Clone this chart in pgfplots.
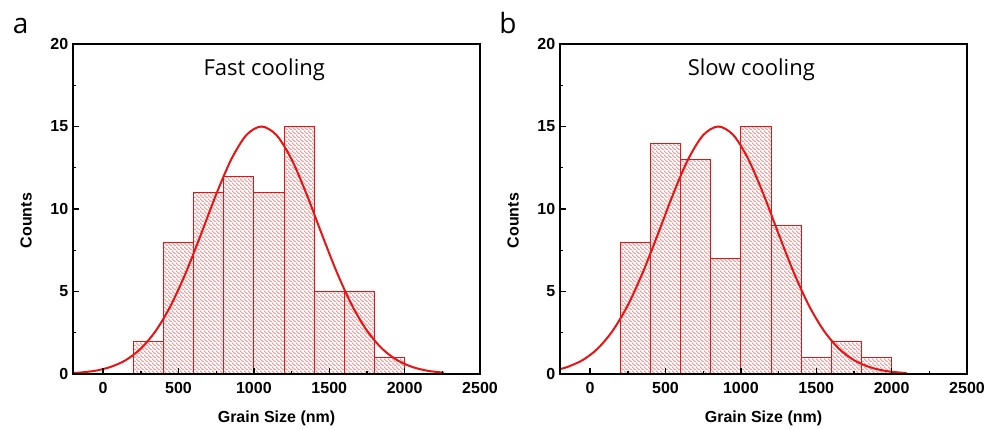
\documentclass[border=0pt]{standalone}
\usepackage{pgfplots}
\pgfplotsset{compat=1.18}
\usetikzlibrary{patterns}
\usepackage{fontspec}
\setmainfont{Liberation Sans}
\newfontfamily\titlefont{Open Sans}
\definecolor{myred}{RGB}{232,20,20}
\definecolor{hatch}{RGB}{242,150,150}
\pgfdeclarepatterninherentlycolored{redhatch}{\pgfpointorigin}{\pgfqpoint{3pt}{3pt}}{\pgfqpoint{3pt}{3pt}}{%
  \pgfsetcolor{hatch}\pgfsetlinewidth{0.8pt}%
  \pgfpathmoveto{\pgfqpoint{-0.3pt}{3.3pt}}\pgfpathlineto{\pgfqpoint{3.3pt}{-0.3pt}}\pgfusepath{stroke}}
\pgfplotsset{hist/.style={
  scale only axis, width=305.25pt, height=247.5pt,
  xmin=-200, xmax=2500, ymin=0, ymax=20,
  xtick={0,500,...,2500}, ytick={0,5,...,20},
  minor xtick={250,750,...,2250}, minor ytick={2.5,7.5,12.5,17.5},
  scaled x ticks=false, axis on top,
  tick pos=left, tick align=inside,
  major tick length=4.5pt, minor tick length=2.5pt,
  axis line style={line width=1.3pt},
  major tick style={line width=1pt, black},
  minor tick style={line width=1pt, black},
  tick label style={font=\bfseries\fontsize{12}{14}\selectfont},
  /pgf/number format/assume math mode=true,
  /pgf/number format/set thousands separator={},
  xticklabel style={yshift=-3pt},
  xlabel={Grain Size (nm)}, ylabel={Counts},
  label style={font=\bfseries\fontsize{12}{14}\selectfont},
  xlabel style={at={(axis description cs:0.5,-0.133)}, anchor=center},
  ylabel style={at={(axis description cs:-0.115,0.465)}, anchor=center},
  bars/.style={ybar interval, draw=myred, line width=0.6pt, pattern=redhatch},
  fit/.style={myred, line width=1.5pt, smooth, no markers},
}}
\begin{document}
\begin{tikzpicture}
\useasboundingbox (-54.75pt,-41.25pt) rectangle (683.25pt,280.5pt);
\begin{axis}[hist, at={(0pt,0pt)}]
\addplot[bars] coordinates {(200,2)(400,8)(600,11)(800,12)(1000,11)(1200,15)(1400,5)(1600,5)(1800,1)(2000,1)};
\addplot[fit] coordinates {(-200,0.06)(-150,0.09)(-50,0.20)(50,0.43)(150,0.84)(250,1.54)(350,2.63)(450,4.17)(550,6.17)(650,8.49)(750,10.89)(850,13.01)(950,14.48)(1050,15)(1150,14.48)(1250,13.01)(1350,10.89)(1450,8.49)(1550,6.17)(1650,4.17)(1750,2.63)(1850,1.54)(1950,0.84)(2050,0.43)(2150,0.20)(2250,0.09)(2260,0.08)};
\node[font=\titlefont\fontsize{16.5}{18}\selectfont] at (rel axis cs:0.47,0.921) {Fast cooling};
\end{axis}
\begin{axis}[hist, at={(365.25pt,0pt)}]
\addplot[bars] coordinates {(200,8)(400,14)(600,13)(800,7)(1000,15)(1200,9)(1400,1)(1600,2)(1800,1)(2000,1)};
\addplot[fit] coordinates {(-200,0.30)(-150,0.43)(-50,0.84)(50,1.54)(150,2.63)(250,4.17)(350,6.17)(450,8.49)(550,10.89)(650,13.01)(750,14.48)(850,15)(950,14.48)(1050,13.01)(1150,10.89)(1250,8.49)(1350,6.17)(1450,4.17)(1550,2.63)(1650,1.54)(1750,0.84)(1850,0.43)(1950,0.20)(2050,0.09)(2100,0.06)};
\node[font=\titlefont\fontsize{16.5}{18}\selectfont] at (rel axis cs:0.47,0.921) {Slow cooling};
\end{axis}
\node[anchor=base west, font=\titlefont\fontsize{21}{24}\selectfont, inner sep=0pt] at (-45.2pt,255pt) {a};
\node[anchor=base west, font=\titlefont\fontsize{21}{24}\selectfont, inner sep=0pt] at (319.5pt,255pt) {b};
\end{tikzpicture}
\end{document}
